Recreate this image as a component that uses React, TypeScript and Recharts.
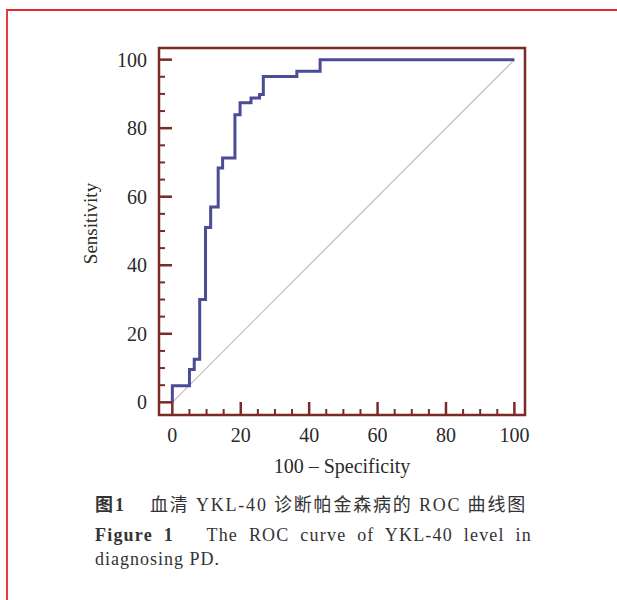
import React from 'react';
import { LineChart, Line, XAxis, YAxis, ReferenceArea } from 'recharts';

// ROC operating points (100 - specificity, sensitivity)
const fpr = [0, 0, 5.0, 6.4, 8.0, 9.7, 11.2, 13.4, 14.7, 18.3, 19.8, 23.0, 25.5, 26.6, 36.4, 43.2, 100];
const tpr = [0, 4.8, 9.6, 12.6, 30.0, 51.0, 57.0, 68.4, 71.3, 83.9, 87.4, 88.8, 89.8, 95.1, 96.6, 100, 100];
const diagX = [0, 100];
const diagY = [0, 100];
const majorTicks = [0, 20, 40, 60, 80, 100];
const minorTicks = [5, 10, 15, 25, 30, 35, 45, 50, 55, 65, 70, 75, 85, 90, 95];
const xDomain = [-3.9, 103.1];
const yDomain = [-3.7, 103.4];
const xTitle = '100 – Specificity';
const yTitle = 'Sensitivity';

const rocData = fpr.map((x, i) => ({ x, y: tpr[i] }));
const diagData = diagX.map((x, i) => ({ x, y: diagY[i] }));
const allTicks = [...majorTicks, ...minorTicks].sort((a, b) => a - b);

const frameColor = '#7a2b26';
const serif = '"Liberation Serif", "Times New Roman", serif';
const textColor = '#2a2a2a';

function XTick(props: any) {
  const { x, y, payload } = props;
  const v = payload.value;
  const major = majorTicks.includes(v);
  return (
    <g>
      <line x1={x} x2={x} y1={y} y2={y - (major ? 13 : 6)} stroke={frameColor} strokeWidth={major ? 2.5 : 2} />
      {major && (
        <text x={x} y={y + 27} textAnchor="middle" fontFamily={serif} fontSize={20} fill={textColor}>
          {v}
        </text>
      )}
    </g>
  );
}

function YTick(props: any) {
  const { x, y, payload } = props;
  const v = payload.value;
  const major = majorTicks.includes(v);
  return (
    <g>
      <line x1={x} x2={x + (major ? 13 : 6)} y1={y} y2={y} stroke={frameColor} strokeWidth={major ? 2.5 : 2} />
      {major && (
        <text x={x - 12} y={y + 7} textAnchor="end" fontFamily={serif} fontSize={20} fill={textColor}>
          {v}
        </text>
      )}
    </g>
  );
}

function XTitle(props: any) {
  const vb = props.viewBox || {};
  return (
    <text x={vb.x + vb.width / 2} y={vb.y + 58} textAnchor="middle" fontFamily={serif} fontSize={20} fill={textColor}>
      {xTitle}
    </text>
  );
}

function YTitle(props: any) {
  const vb = props.viewBox || {};
  const cx = vb.x + 11;
  const cy = vb.y + vb.height / 2 - 8;
  return (
    <text
      x={cx}
      y={cy}
      transform={`rotate(-90 ${cx} ${cy})`}
      textAnchor="middle"
      dominantBaseline="central"
      fontFamily={serif}
      fontSize={19}
      fill={textColor}
    >
      {yTitle}
    </text>
  );
}

export default function App() {
  return (
    <div style={{ position: 'absolute', left: 0, top: 0, width: 617, height: 600, background: '#fff', overflow: 'hidden' }}>
      <div style={{ position: 'absolute', left: 6, top: 9, width: 611, height: 591, borderTop: '2px solid #e8262d', borderLeft: '2px solid #ea3a40', boxSizing: 'border-box' }} />
      <div style={{ position: 'absolute', left: 0, top: 0 }}>
        <LineChart width={617} height={600} margin={{ top: 48, right: 92, bottom: 125, left: 79 }}>
          <XAxis
            dataKey="x"
            type="number"
            domain={xDomain}
            ticks={allTicks}
            interval={0}
            tickSize={0}
            tickMargin={0}
            axisLine={false}
            tickLine={false}
            tick={(p: any) => <XTick {...p} />}
            height={60}
            allowDataOverflow
            label={{ content: (p: any) => <XTitle {...p} /> }}
          />
          <YAxis
            dataKey="y"
            type="number"
            domain={yDomain}
            ticks={allTicks}
            interval={0}
            tickSize={0}
            tickMargin={0}
            axisLine={false}
            tickLine={false}
            tick={(p: any) => <YTick {...p} />}
            width={80}
            allowDataOverflow
            label={{ content: (p: any) => <YTitle {...p} /> }}
          />
          <ReferenceArea
            x1={xDomain[0]}
            x2={xDomain[1]}
            y1={yDomain[0]}
            y2={yDomain[1]}
            fill="none"
            fillOpacity={0}
            stroke={frameColor}
            strokeWidth={2.5}
            strokeOpacity={1}
          />
          <Line data={diagData} dataKey="y" type="linear" stroke="#c9bab6" strokeWidth={1.2} dot={false} isAnimationActive={false} />
          <Line data={rocData} dataKey="y" type="stepAfter" stroke="#4b4b96" strokeWidth={3} dot={false} isAnimationActive={false} />
        </LineChart>
      </div>
      <div style={{ position: 'absolute', left: 95, top: 493, lineHeight: '24px', fontSize: 18, fontFamily: '"Liberation Serif", "Noto Sans CJK SC", serif', color: '#333', fontWeight: 700, letterSpacing: 2 }}>
        图1
      </div>
      <div style={{ position: 'absolute', left: 150, top: 493, lineHeight: '24px', fontSize: 18, fontFamily: '"Liberation Serif", "Noto Sans CJK SC", serif', color: '#333', letterSpacing: 1.8, whiteSpace: 'nowrap' }}>
        血清 YKL-40 诊断帕金森病的 ROC 曲线图
      </div>
      <div style={{ position: 'absolute', left: 95, top: 523, width: 437, lineHeight: '24px', fontSize: 18, fontFamily: serif, color: '#333', textAlign: 'justify', textAlignLast: 'justify', letterSpacing: 1.2, whiteSpace: 'nowrap' }}>
        <b>Figure 1</b>&nbsp;&nbsp;&nbsp;The ROC curve of YKL-40 level in
      </div>
      <div style={{ position: 'absolute', left: 95, top: 547, lineHeight: '24px', fontSize: 18, fontFamily: serif, color: '#333', letterSpacing: 1 }}>
        diagnosing PD.
      </div>
    </div>
  );
}
